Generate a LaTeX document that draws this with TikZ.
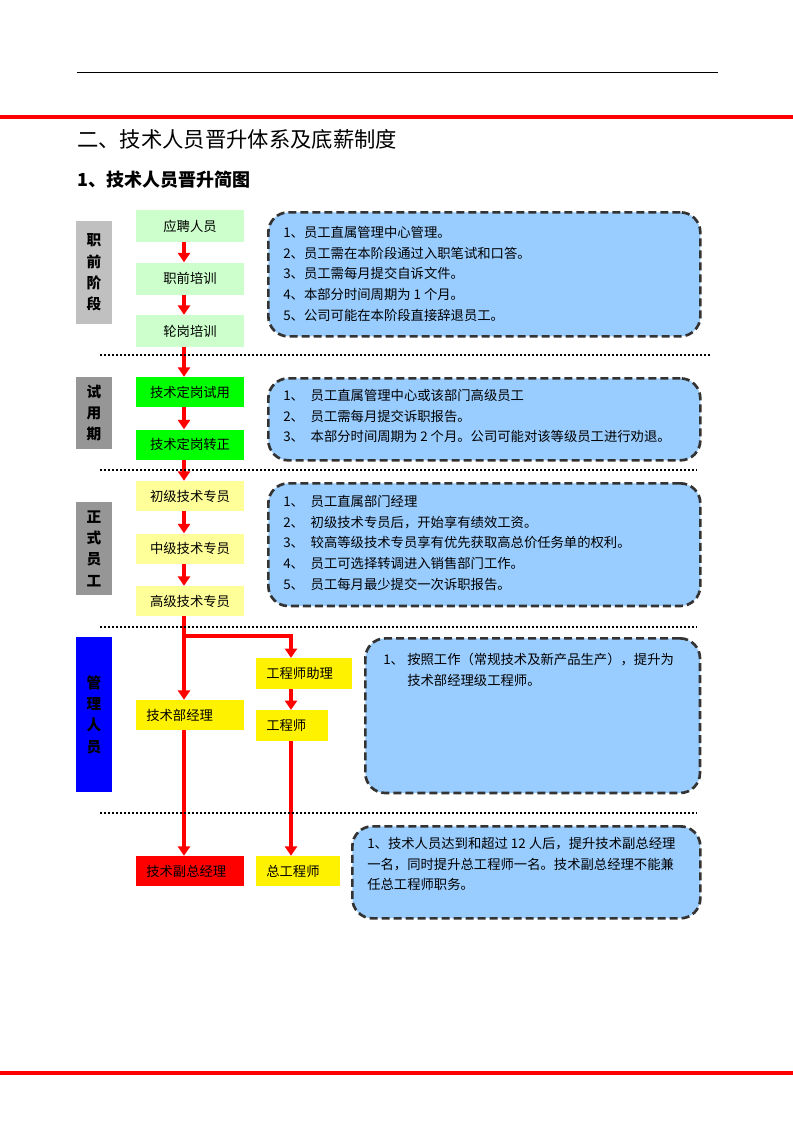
\documentclass[tikz,border=0pt]{standalone}
\usepackage{fontspec}
\setmainfont{Noto Sans CJK SC}
\usetikzlibrary{arrows.meta, positioning, calc}
\definecolor{lgreen}{HTML}{CCFFCC}
\definecolor{lyellow}{HTML}{FFFF99}
\definecolor{grayA}{HTML}{C0C0C0}
\definecolor{grayB}{HTML}{969696}
\definecolor{notefill}{HTML}{99CCFF}
\definecolor{noteline}{HTML}{333333}
\tikzset{
  stage/.style={fill=#1, minimum width=81pt, minimum height=22.5pt, inner sep=0pt, font=\fontsize{10}{12}\selectfont},
  mgr/.style={fill=#1, minimum height=22.5pt, inner xsep=7.5pt, inner ysep=0pt, anchor=west, font=\fontsize{10}{12}\selectfont},
  phase/.style={fill=#1, minimum width=27pt, inner sep=0pt, align=center, font=\fontsize{11}{16}\selectfont\bfseries},
  note/.style={draw=noteline, fill=notefill, dash pattern=on 6pt off 3pt, line width=2pt, rounded corners=15pt, inner sep=0pt, anchor=north west},
  notetext/.style={anchor=north west, inner sep=0pt, align=left, font=\fontsize{10}{15.5}\selectfont},
  arr/.style={-{Triangle[length=7pt, width=9pt]}, line width=3pt, red},
  sep/.style={line width=1.2pt, dash pattern=on 1.2pt off 1.8pt},
}
\begin{document}
\begin{tikzpicture}[x=0.75pt, y=-0.75pt, node distance=15pt]
  \useasboundingbox (0,0) rectangle (793,1122);
  % page rules and headings
  \draw[line width=0.6pt] (77,72) -- (718,72);
  \draw[red, line width=2.4pt] (0,117) -- (793,117);
  \draw[red, line width=2.4pt] (0,1073) -- (793,1073);
  \node[anchor=west, inner sep=0pt, font=\fontsize{16}{19}\selectfont] (title) at (77,139) {二、技术人员晋升体系及底薪制度};
  \node[anchor=west, inner sep=0pt, font=\fontsize{13.5}{16}\selectfont\bfseries] (sub) at (77,180) {1、技术人员晋升简图};

  % phase labels
  \node[phase=grayA, minimum height=77pt] (p1) at (94,272.5) {职\\前\\阶\\段};
  \node[phase=grayB, minimum height=54pt] (p2) at (94,413) {试\\用\\期};
  \node[phase=grayB, minimum height=70pt] (p3) at (94,548.5) {正\\式\\员\\工};
  \node[phase=blue, minimum height=116pt] (p4) at (94,714.5) {管\\理\\人\\员};

  % main chain
  \node[stage=lgreen, minimum height=24pt] (a1) at (190,226) {应聘人员};
  \node[stage=lgreen, minimum height=24pt, below=15pt of a1] (a2) {职前培训};
  \node[stage=lgreen, minimum height=24pt, below=15pt of a2] (a3) {轮岗培训};
  \node[stage=green] (b1) at (190,392) {技术定岗试用};
  \node[stage=green, below=16.5pt of b1] (b2) {技术定岗转正};
  \node[stage=lyellow] (c1) at (190,496) {初级技术专员};
  \node[stage=lyellow, below=16.5pt of c1] (c2) {中级技术专员};
  \node[stage=lyellow, below=16.5pt of c2] (c3) {高级技术专员};
  \node[mgr=yellow, minimum width=81pt, text width=66pt] (m1) at (136,715) {技术部经理};
  \node[mgr=red, minimum width=81pt, text width=66pt] (m2) at (136,871) {技术副总经理};
  \node[mgr=yellow, minimum width=72pt, text width=57pt, minimum height=23pt] (e1) at (256,673.5) {工程师助理};
  \node[mgr=yellow, minimum width=54pt, text width=39pt, minimum height=23pt] (e2) at (256,725.5) {工程师};
  \node[mgr=yellow, minimum width=63pt, text width=48pt] (e3) at (256,871) {总工程师};

  % columns of the arrows
  \coordinate (cl) at (184,0);
  \coordinate (cr) at (291,0);
  \coordinate (fork) at (184,636);

  \draw[arr] (a1.south -| cl) -- (a2.north -| cl);
  \draw[arr] (a2.south -| cl) -- (a3.north -| cl);
  \draw[arr] (a3.south -| cl) -- (b1.north -| cl);
  \draw[arr] (b1.south -| cl) -- (b2.north -| cl);
  \draw[arr] (b2.south -| cl) -- (c1.north -| cl);
  \draw[arr] (c1.south -| cl) -- (c2.north -| cl);
  \draw[arr] (c2.south -| cl) -- (c3.north -| cl);
  \draw[arr] (c3.south -| cl) -- (m1.north -| cl);
  \draw[arr] (fork) -| (e1.north -| cr);
  \draw[arr] (m1.south -| cl) -- (m2.north -| cl);
  \draw[arr] (e1.south -| cr) -- (e2.north -| cr);
  \draw[arr] (e2.south -| cr) -- (e3.north -| cr);

  % dotted separators
  \draw[sep] (100,355) -- (711,355);
  \draw[sep] (100,470) -- (697,470);
  \draw[sep] (100,627) -- (697,627);
  \draw[sep] (100,813) -- (697,813);

  % notes
  \node[note, minimum width=324pt, minimum height=93pt] (n1) at (267,211) {};
  \node[notetext] (t1) at (283,226) {1、员工直属管理中心管理。\\2、员工需在本阶段通过入职笔试和口答。\\3、员工需每月提交自诉文件。\\4、本部分时间周期为 1 个月。\\5、公司可能在本阶段直接辞退员工。};
  \node[note, minimum width=324pt, minimum height=61.5pt] (n2) at (267,377) {};
  \node[notetext] (t2) at (283,389) {1、\hspace{5pt}员工直属管理中心或该部门高级员工\\2、\hspace{5pt}员工需每月提交诉职报告。\\3、\hspace{5pt}本部分时间周期为 2 个月。公司可能对该等级员工进行劝退。};
  \node[note, minimum width=324pt, minimum height=92pt] (n3) at (267,482) {};
  \node[notetext] (t3) at (283,495) {1、\hspace{5pt}员工直属部门经理\\2、\hspace{5pt}初级技术专员后，开始享有绩效工资。\\3、\hspace{5pt}较高等级技术专员享有优先获取高总价任务单的权利。\\4、\hspace{5pt}员工可选择转调进入销售部门工作。\\5、\hspace{5pt}员工每月最少提交一次诉职报告。};
  \node[note, minimum width=251pt, minimum height=116pt] (n4) at (364,637) {};
  \node[notetext] (t4) at (383,653) {\makebox[18pt][l]{1、}按照工作（常规技术及新产品生产），提升为\\\hspace*{18pt}技术部经理级工程师。};
  \node[note, minimum width=261pt, minimum height=69pt] (n5) at (351,825) {};
  \node[notetext] (t5) at (367,837) {1、技术人员达到和超过 12 人后，提升技术副总经理\\一名，同时提升总工程师一名。技术副总经理不能兼\\任总工程师职务。};
\end{tikzpicture}
\end{document}
